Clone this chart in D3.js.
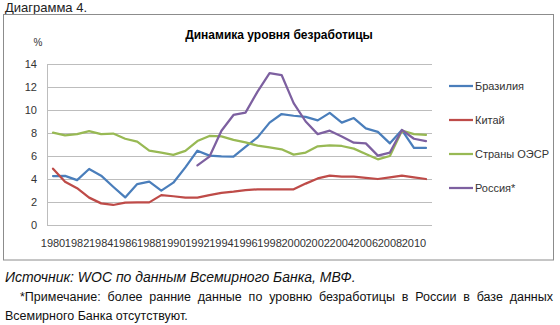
<!DOCTYPE html>
<html><head><meta charset="utf-8">
<script src="https://cdn.jsdelivr.net/npm/d3@7"></script>
<style>
body{margin:0;background:#fff;}
svg{display:block;}
text{font-family:"Liberation Sans",Arial,sans-serif;}
</style></head>
<body>
<svg id="c" width="560" height="325"></svg>
<script>
const years = d3.range(1980, 2012);
const tickLabels = d3.range(1980, 2011, 2).map(String);
const brazil = [4.26,4.27,3.9,4.87,4.29,3.33,2.4,3.56,3.77,2.99,3.68,5.01,6.46,6.03,5.97,5.94,6.8,7.62,8.9,9.65,9.5,9.4,9.1,9.75,8.9,9.3,8.4,8.1,7.1,8.26,6.7,6.7];
const china = [4.9,3.77,3.2,2.38,1.88,1.74,1.94,1.97,1.97,2.6,2.5,2.38,2.38,2.6,2.8,2.9,3.04,3.1,3.1,3.1,3.1,3.6,4.05,4.3,4.2,4.2,4.1,4.0,4.15,4.3,4.15,4.0];
const oecd = [8.03,7.8,7.9,8.17,7.9,7.95,7.5,7.25,6.46,6.3,6.1,6.45,7.3,7.74,7.7,7.4,7.19,6.9,6.75,6.58,6.12,6.3,6.84,6.93,6.87,6.64,6.17,5.71,6.0,8.2,7.9,7.83];
const russia = [null,null,null,null,null,null,null,null,null,null,null,null,5.19,5.94,8.2,9.57,9.77,11.6,13.2,13.04,10.6,9.0,7.9,8.2,7.7,7.16,7.1,6.03,6.3,8.26,7.5,7.3];
const seriesNames = ["Бразилия","Китай","Страны ОЭСР","Россия*"];
const seriesColors = ["#4A7EBB","#BE4B48","#98B954","#7D60A0"];
const seriesData = [brazil, china, oecd, russia];
const yTicks = [0,2,4,6,8,10,12,14];

const svg = d3.select("#c");

// caption
svg.append("text").attr("x",5).attr("y",12).attr("font-size",13).attr("fill","#222").text("Диаграмма 4.");

// chart frame
svg.append("rect").attr("x",3.5).attr("y",14.5).attr("width",550).attr("height",245.5)
  .attr("fill","#fff").attr("stroke","#8c8c8c").attr("stroke-width",1);

svg.append("text").attr("x",279).attr("y",39).attr("text-anchor","middle")
  .attr("font-size",12).attr("font-weight","bold").attr("fill","#000").text("Динамика уровня безработицы");
svg.append("text").attr("x",38).attr("y",46).attr("text-anchor","middle").attr("font-size",10).attr("fill","#333").text("%");

const x = d3.scalePoint().domain(years).range([47,432]).padding(0.5);
const y = d3.scaleLinear().domain([0,14]).range([225,64]);

// grid
svg.append("g").selectAll("line").data(yTicks).join("line")
  .attr("x1",47).attr("x2",432)
  .attr("y1",d=>Math.round(y(d))+0.5).attr("y2",d=>Math.round(y(d))+0.5)
  .attr("stroke","#BDBDBD").attr("stroke-width",1);
svg.append("line").attr("x1",47.5).attr("x2",47.5).attr("y1",y(14)).attr("y2",y(0)).attr("stroke","#BDBDBD");

// y labels
svg.append("g").selectAll("text").data(yTicks).join("text")
  .attr("x",37).attr("y",d=>y(d)+4).attr("text-anchor","end")
  .attr("font-size",11).attr("fill","#333").text(d=>d);

// x labels
svg.append("g").selectAll("text").data(tickLabels).join("text")
  .attr("x",d=>x(+d)).attr("y",247).attr("text-anchor","middle")
  .attr("font-size",11).attr("fill","#333").text(d=>d);

// lines
const line = d3.line().defined(d=>d[1]!=null).x(d=>x(d[0])).y(d=>y(d[1]));
seriesData.forEach((s,i)=>{
  svg.append("path").datum(years.map((yr,j)=>[yr,s[j]]))
    .attr("d",line).attr("fill","none").attr("stroke",seriesColors[i])
    .attr("stroke-width",2.25).attr("stroke-linejoin","round").attr("stroke-linecap","round");
});

// legend
const legY = [86,120,154,188];
seriesNames.forEach((n,i)=>{
  svg.append("line").attr("x1",449).attr("x2",473).attr("y1",legY[i]).attr("y2",legY[i])
    .attr("stroke",seriesColors[i]).attr("stroke-width",2.25);
  svg.append("text").attr("x",475).attr("y",legY[i]+4).attr("font-size",11).attr("fill","#333").text(n);
});

// notes
svg.append("text").attr("x",5).attr("y",282).attr("font-size",14).attr("font-style","italic").attr("fill","#111")
  .text("Источник: WOC по данным Всемирного Банка, МВФ.");
const l2 = svg.append("text").attr("x",20).attr("y",300.5).attr("font-size",12.5).attr("fill","#111")
  .text("*Примечание: более ранние данные по уровню безработицы в России в базе данных");
const nat = l2.node().getComputedTextLength();
const spaces = (l2.text().match(/ /g)||[]).length;
l2.attr("word-spacing", Math.max(0, ((553-20)-nat)/spaces));
svg.append("text").attr("x",5).attr("y",320).attr("font-size",12.5).attr("fill","#111")
  .text("Всемирного Банка отсутствуют.");
</script>
</body></html>
